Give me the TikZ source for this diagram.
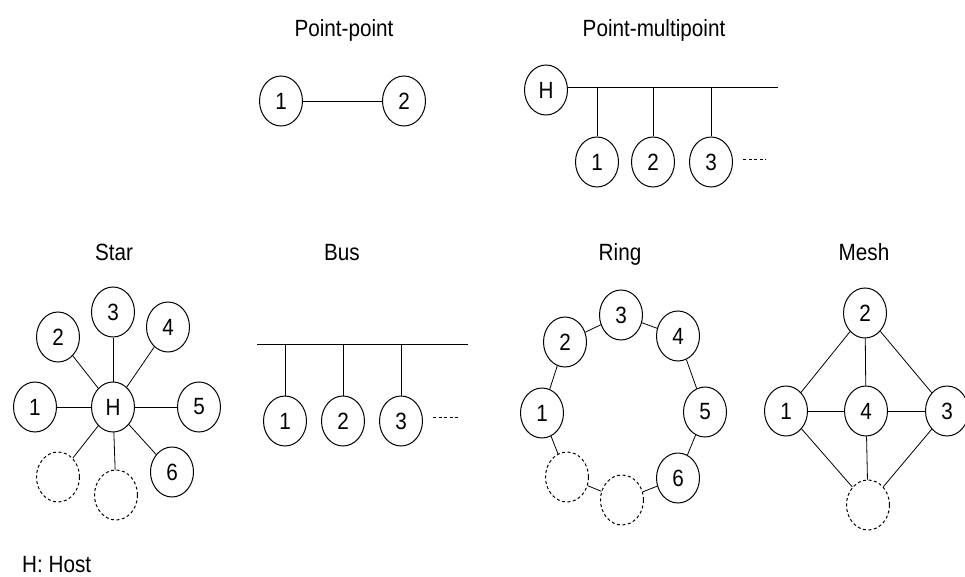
\documentclass[tikz,border=0pt]{standalone}
\usepackage{fontspec}
\setmainfont{Liberation Sans}[FakeStretch=0.88]
\usetikzlibrary{shapes.geometric}
\begin{document}
\begin{tikzpicture}[x=1pt,y=-1pt,
  nd/.style={ellipse, draw, line width=1pt, minimum width=43pt, minimum height=50pt, inner sep=0pt, font=\fontsize{23.5}{23.5}\selectfont},
  dnd/.style={nd, dash pattern=on 3pt off 2.5pt},
  ttl/.style={font=\fontsize{23.5}{23.5}\selectfont, anchor=base},
  ln/.style={line width=0.8pt},
  tail/.style={line width=1pt, dash pattern=on 3pt off 2.5pt}]
\useasboundingbox (0,0) rectangle (965,577);
% Titles
\node[ttl] (tpp) at (344,37) {Point-point};
\node[ttl] (tpm) at (654,37) {Point-multipoint};
\node[ttl] (tstar) at (114,260) {Star};
\node[ttl] (tbus) at (342,260) {Bus};
\node[ttl] (tring) at (620,260) {Ring};
\node[ttl] (tmesh) at (864,260) {Mesh};
\node[font=\fontsize{23.5}{23.5}\selectfont, anchor=base west, inner sep=0pt] (host) at (22,572) {H: Host};
% Point-point
\node[nd] (pa) at (281,101) {1};
\node[nd] (pb) at (404,101) {2};
\draw[ln] (pa) -- (pb);
% Point-multipoint
\node[nd] (mh) at (546,90) {H};
\coordinate (mend) at (778,87);
\node[nd] (m1) at (597,162) {1};
\node[nd] (m2) at (653,162) {2};
\node[nd] (m3) at (711,162) {3};
\coordinate (mtail) at (766,160);
\draw[ln] (mh.east |- mend) -- (mend);
\draw[ln] (m1.north) -- (m1.north |- mend);
\draw[ln] (m2.north) -- (m2.north |- mend);
\draw[ln] (m3.north) -- (m3.north |- mend);
\draw[tail] ([xshift=10pt]m3.east |- mtail) -- (mtail);
% Star
\node[nd] (sh) at (113,407) {H};
\node[nd] (s1) at (35,407) {1};
\node[nd] (s2) at (58,337) {2};
\node[nd] (s3) at (113,312) {3};
\node[nd] (s4) at (168,327) {4};
\node[nd] (s5) at (199,407) {5};
\node[nd] (s6) at (172,472) {6};
\node[dnd] (s7) at (58,477) {};
\node[dnd] (s8) at (116,495) {};
\foreach \n in {s1,s2,s3,s4,s5,s6,s7,s8} \draw[ln] (sh) -- (\n);
% Bus
\coordinate (bl) at (257,344);
\coordinate (br) at (468,344);
\node[nd] (b1) at (285,421) {1};
\node[nd] (b2) at (343,421) {2};
\node[nd] (b3) at (401,421) {3};
\coordinate (btail) at (458,417);
\draw[ln] (bl) -- (br);
\draw[ln] (b1.north) -- (b1.north |- bl);
\draw[ln] (b2.north) -- (b2.north |- bl);
\draw[ln] (b3.north) -- (b3.north |- bl);
\draw[tail] ([xshift=10pt]b3.east |- btail) -- (btail);
% Ring
\node[nd] (r1) at (542,413) {1};
\node[nd] (r2) at (565,342) {2};
\node[nd] (r3) at (621,315) {3};
\node[nd] (r4) at (678,336) {4};
\node[nd] (r5) at (705,412) {5};
\node[nd] (r6) at (678,478) {6};
\node[dnd] (r7) at (622,500) {};
\node[dnd] (r8) at (567,477) {};
\draw[ln] (r1) -- (r2) -- (r3) -- (r4) -- (r5) -- (r6) -- (r7) -- (r8) -- (r1);
% Mesh
\node[nd] (x1) at (786,411) {1};
\node[nd] (x2) at (865,313) {2};
\node[nd] (x3) at (947,411) {3};
\node[nd] (x4) at (866,411) {4};
\node[dnd] (x5) at (868,505) {};
\draw[ln] (x1) -- (x2);
\draw[ln] (x2) -- (x3);
\draw[ln] (x2) -- (x4);
\draw[ln] (x1) -- (x4);
\draw[ln] (x4) -- (x3);
\draw[ln] (x1) -- (x5);
\draw[ln] (x3) -- (x5);
\draw[ln] (x4) -- (x5);
\end{tikzpicture}
\end{document}
